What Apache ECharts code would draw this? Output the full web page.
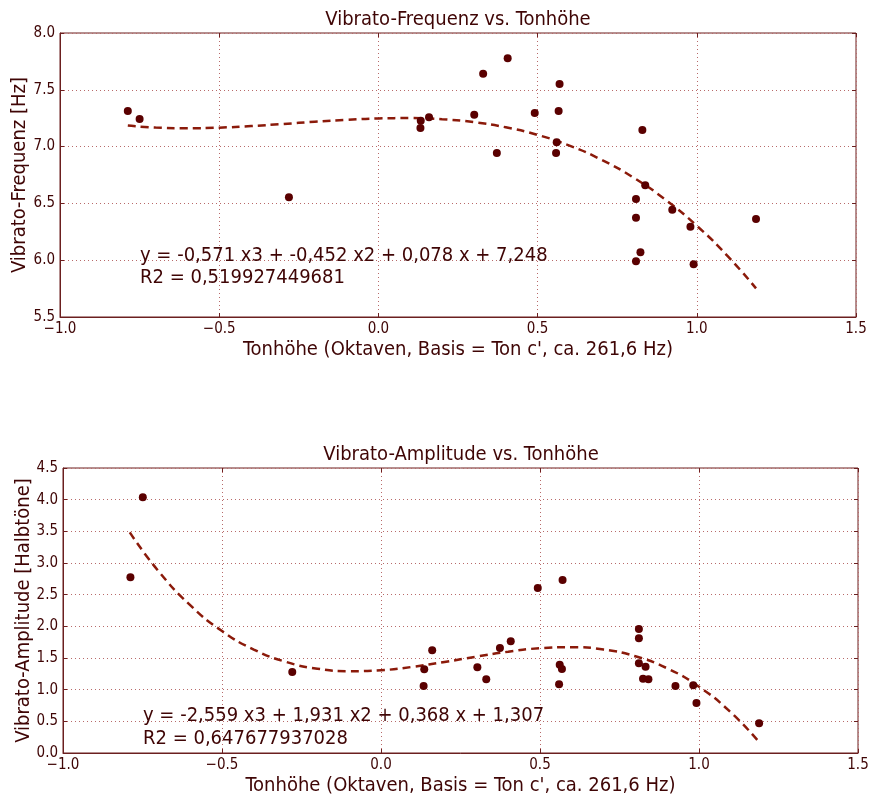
<!DOCTYPE html>
<html>
<head>
<meta charset="utf-8">
<script src="https://cdn.jsdelivr.net/npm/echarts@6/dist/echarts.min.js"></script>
<style>
  html, body { margin: 0; padding: 0; background: #fff; }
  #chart { width: 877px; height: 795px; }
</style>
</head>
<body>
<div id="chart"></div>
<script>
// Vibrato-Frequenz (oben)
var freqX = [-0.787, -0.750, -0.281, 0.133, 0.132, 0.159, 0.301, 0.329, 0.406, 0.372, 0.491, 0.569, 0.566, 0.560, 0.558, 0.829, 0.838, 0.809, 0.809, 0.823, 0.809, 0.923, 0.980, 0.990, 1.186];
var freqY = [7.313, 7.243, 6.554, 7.228, 7.164, 7.258, 7.281, 7.642, 7.777, 6.944, 7.296, 7.551, 7.313, 7.038, 6.944, 7.146, 6.659, 6.539, 6.374, 6.070, 5.990, 6.445, 6.295, 5.964, 6.363];

// Vibrato-Amplitude (unten)
var ampX = [-0.749, -0.788, -0.279, 0.136, 0.134, 0.161, 0.303, 0.331, 0.374, 0.408, 0.493, 0.571, 0.562, 0.569, 0.560, 0.811, 0.811, 0.811, 0.832, 0.824, 0.841, 0.926, 0.982, 0.992, 1.189];
var ampY = [4.037, 2.774, 1.279, 1.321, 1.058, 1.621, 1.353, 1.163, 1.658, 1.763, 2.605, 2.732, 1.394, 1.326, 1.085, 1.958, 1.811, 1.416, 1.363, 1.174, 1.163, 1.058, 1.069, 0.790, 0.469];

// Regressionskurven
var freqFitX = [-0.787, -0.7, -0.6, -0.5, -0.4, -0.3, -0.2, -0.1, 0, 0.1, 0.2, 0.3, 0.4, 0.5, 0.6, 0.7, 0.8, 0.9, 1.0, 1.1, 1.186];
var freqFitY = [7.185, 7.168, 7.162, 7.167, 7.181, 7.199, 7.219, 7.236, 7.248, 7.251, 7.241, 7.215, 7.170, 7.103, 7.009, 6.885, 6.729, 6.536, 6.303, 6.027, 5.752];
var ampFitX = [-0.79, -0.7, -0.6, -0.5, -0.4, -0.3, -0.2, -0.1, 0, 0.1, 0.2, 0.3, 0.4, 0.5, 0.6, 0.7, 0.8, 0.9, 1.0, 1.1, 1.186];
var ampFitY = [3.483, 2.873, 2.334, 1.926, 1.633, 1.440, 1.331, 1.292, 1.307, 1.361, 1.437, 1.522, 1.599, 1.654, 1.670, 1.633, 1.527, 1.337, 1.047, 0.642, 0.190];

// Texte
var titles = ['Vibrato-Frequenz vs. Tonhöhe', 'Vibrato-Amplitude vs. Tonhöhe'];
var xName = "Tonhöhe (Oktaven, Basis = Ton c', ca. 261,6 Hz)";
var yNames = ['Vibrato-Frequenz [Hz]', 'Vibrato-Amplitude [Halbtöne]'];
var freqEq = ['y = -0,571 x3 + -0,452 x2 + 0,078 x + 7,248', 'R2 = 0,519927449681'];
var ampEq = ['y = -2,559 x3 + 1,931 x2 + 0,368 x + 1,307', 'R2 = 0,647677937028'];

var FONT = "'DejaVu Sans Condensed', 'DejaVu Sans', sans-serif";
var TXT = '#3f0505';
var DOT = '#5a0000';
var FIT = '#8b1a0a';
var AXIS = '#6b1f1f';
var GRID = '#b86a6a';

function zip(a, b) {
  var out = [];
  for (var i = 0; i < a.length; i++) out.push([a[i], b[i]]);
  return out;
}

function fmt(v) {
  return (v < 0 ? '\u2212' : '') + Math.abs(v).toFixed(1);
}

function xAxisCfg(gi, withLabels) {
  return {
    type: 'value', gridIndex: gi, min: -1.0, max: 1.5, interval: 0.5,
    position: withLabels ? 'bottom' : 'top',
    name: withLabels ? xName : '',
    nameLocation: 'middle', nameGap: 23,
    nameTextStyle: { color: TXT, fontSize: 20, fontFamily: FONT },
    axisLine: { show: withLabels, onZero: false, lineStyle: { color: AXIS } },
    axisTick: { show: true, inside: true, length: 4, lineStyle: { color: AXIS } },
    axisLabel: { show: withLabels, color: TXT, fontSize: 15, fontFamily: FONT, margin: 5, formatter: fmt },
    splitLine: { show: withLabels, lineStyle: { color: GRID, type: [1, 3], width: 1 } }
  };
}

function yAxisCfg(gi, min, max, name, gap, withLabels) {
  return {
    type: 'value', gridIndex: gi, min: min, max: max, interval: 0.5,
    position: withLabels ? 'left' : 'right',
    name: withLabels ? name : '',
    nameLocation: 'middle', nameGap: gap, nameRotate: 90, nameMoveOverlap: false,
    nameTextStyle: { color: TXT, fontSize: 20, fontFamily: FONT },
    axisLine: { show: withLabels, onZero: false, lineStyle: { color: AXIS } },
    axisTick: { show: true, inside: true, length: 4, lineStyle: { color: AXIS } },
    axisLabel: { show: withLabels, color: TXT, fontSize: 15, fontFamily: FONT, margin: 5, formatter: function (v) { return v.toFixed(1); } },
    splitLine: { show: withLabels, lineStyle: { color: GRID, type: [1, 3], width: 1 } }
  };
}

function textEl(x, y, str, align) {
  return {
    type: 'text', x: x, y: y, z: 10,
    style: { text: str, fill: TXT, font: '20px ' + FONT, textAlign: align, textVerticalAlign: 'middle' }
  };
}

var option = {
  backgroundColor: '#ffffff',
  animation: false,
  grid: [
    { left: 60, top: 33, width: 796, height: 284, containLabel: false, outerBoundsMode: 'none', show: true, borderColor: AXIS, borderWidth: 1, backgroundColor: '#fff' },
    { left: 63, top: 468, width: 795, height: 285, containLabel: false, outerBoundsMode: 'none', show: true, borderColor: AXIS, borderWidth: 1, backgroundColor: '#fff' }
  ],
  xAxis: [xAxisCfg(0, true), xAxisCfg(1, true), xAxisCfg(0, false), xAxisCfg(1, false)],
  yAxis: [
    yAxisCfg(0, 5.5, 8.0, yNames[0], 30, true),
    yAxisCfg(1, 0.0, 4.5, yNames[1], 29, true),
    yAxisCfg(0, 5.5, 8.0, '', 0, false),
    yAxisCfg(1, 0.0, 4.5, '', 0, false)
  ],
  graphic: [
    textEl(458, 20, titles[0], 'center'),
    textEl(461, 455, titles[1], 'center'),
    textEl(140, 256, freqEq[0], 'left'),
    textEl(140, 278, freqEq[1], 'left'),
    textEl(143, 716, ampEq[0], 'left'),
    textEl(143, 739, ampEq[1], 'left')
  ],
  series: [
    {
      type: 'line', xAxisIndex: 0, yAxisIndex: 0, data: zip(freqFitX, freqFitY),
      smooth: true, showSymbol: false, z: 3,
      lineStyle: { color: FIT, width: 2.5, type: [8, 5] }
    },
    {
      type: 'scatter', xAxisIndex: 0, yAxisIndex: 0, data: zip(freqX, freqY),
      symbolSize: 8, z: 4, itemStyle: { color: DOT, opacity: 1 }
    },
    {
      type: 'line', xAxisIndex: 1, yAxisIndex: 1, data: zip(ampFitX, ampFitY),
      smooth: true, showSymbol: false, z: 3,
      lineStyle: { color: FIT, width: 2.5, type: [8, 5] }
    },
    {
      type: 'scatter', xAxisIndex: 1, yAxisIndex: 1, data: zip(ampX, ampY),
      symbolSize: 8, z: 4, itemStyle: { color: DOT, opacity: 1 }
    }
  ]
};

var myChart = echarts.init(document.getElementById('chart'));
myChart.setOption(option);
</script>
</body>
</html>
